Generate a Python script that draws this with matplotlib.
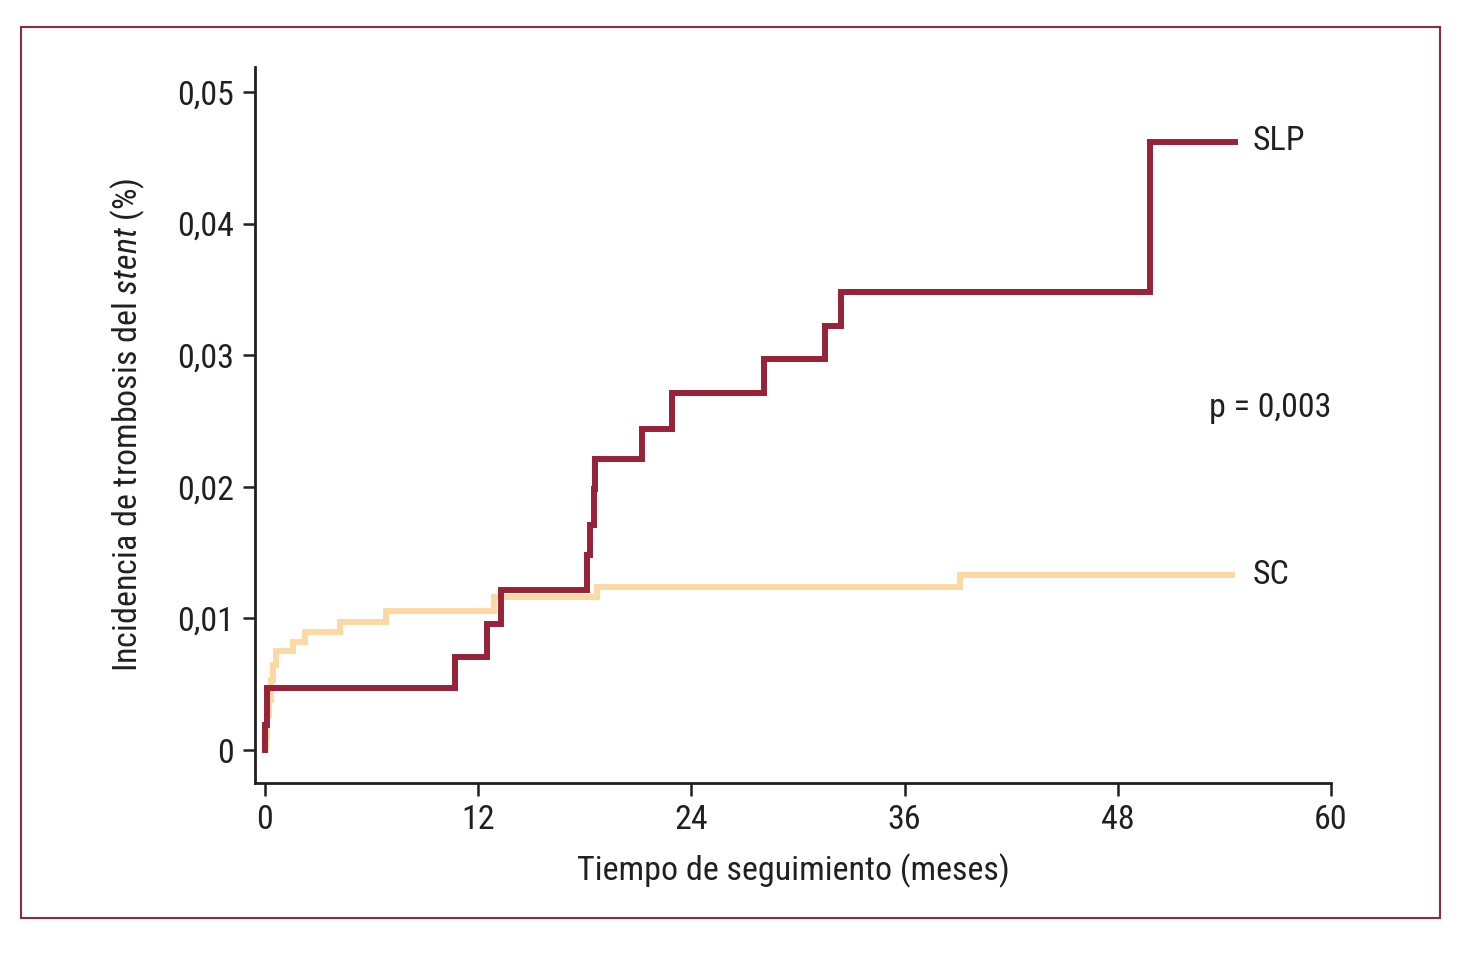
import matplotlib
matplotlib.use("Agg")
import matplotlib.pyplot as plt
from matplotlib.patches import Rectangle

# curvas de incidencia acumulada (meses, incidencia)
slp_t = [0, 0.1, 10.7, 12.5, 13.3, 18.1, 18.3, 18.5, 18.6, 21.2, 22.9, 28.1, 31.5, 32.4, 49.8, 54.6]
slp_y = [0.0019, 0.0047, 0.0071, 0.0096, 0.0122, 0.0148, 0.0171, 0.0198, 0.0221, 0.0244, 0.0271,
         0.0297, 0.0322, 0.0348, 0.0462, 0.0462]
sc_t = [0, 0.06, 0.12, 0.22, 0.35, 0.45, 0.6, 1.6, 2.25, 4.2, 6.8, 12.9, 18.7, 39.1, 54.4]
sc_y = [0.0003, 0.0010, 0.0027, 0.0038, 0.0053, 0.0065, 0.0075, 0.0082, 0.0090, 0.0097, 0.0106,
        0.0116, 0.0124, 0.0133, 0.0133]

xticks = [0, 12, 24, 36, 48, 60]
yticks = [0, 0.01, 0.02, 0.03, 0.04, 0.05]
ytick_labels = ["0", "0,01", "0,02", "0,03", "0,04", "0,05"]

plt.rcParams["font.family"] = ["Roboto Condensed", "DejaVu Sans"]
plt.rcParams["mathtext.fontset"] = "custom"
plt.rcParams["mathtext.rm"] = "Roboto Condensed"
plt.rcParams["mathtext.it"] = "Roboto Condensed:italic"

C_SLP = "#982339"
C_SC = "#FCD9A4"
C_TXT = "#231f20"
FS = 24.5

fig = plt.figure(figsize=(14.7, 9.58), dpi=100)
fig.patches.append(Rectangle((20.5 / 1470, 1 - 918 / 958), 1419 / 1470, 891 / 958,
                             transform=fig.transFigure, fill=False, ec="#8e2a45", lw=1.5))

ax = fig.add_axes([255 / 1470, 1 - 783 / 958, 1076 / 1470, 716 / 958])
ax.step(sc_t, sc_y, where="post", color=C_SC, lw=4.3, solid_joinstyle="miter")
ax.step([0] + slp_t, [0] + slp_y, where="post", color=C_SLP, lw=4.3, solid_joinstyle="miter")

ax.set_xlim(-0.56, 60)
ax.set_ylim(-0.0025, 0.0519)
ax.set_xticks(xticks)
ax.set_xticklabels([str(v) for v in xticks])
ax.set_yticks(yticks)
ax.set_yticklabels(ytick_labels)
for s in ["top", "right"]:
    ax.spines[s].set_visible(False)
for s in ["left", "bottom"]:
    ax.spines[s].set_linewidth(2.0)
    ax.spines[s].set_color(C_TXT)
ax.tick_params(length=9, width=1.8, color=C_TXT, labelsize=FS, labelcolor=C_TXT, pad=6)

ax.set_xlabel("Tiempo de seguimiento (meses)", fontsize=FS, color=C_TXT, labelpad=13)
ax.set_ylabel(r"Incidencia de trombosis del $\mathit{stent}$ (%)", fontsize=FS, color=C_TXT, labelpad=22)

ax.text(55.6, 0.0463, "SLP", fontsize=FS, color=C_TXT, va="center", ha="left")
ax.text(55.6, 0.0133, "SC", fontsize=FS, color=C_TXT, va="center", ha="left")
ax.text(60, 0.0260, "p = 0,003", fontsize=FS, color=C_TXT, va="center", ha="right")

fig.savefig("out.png", dpi=100)
